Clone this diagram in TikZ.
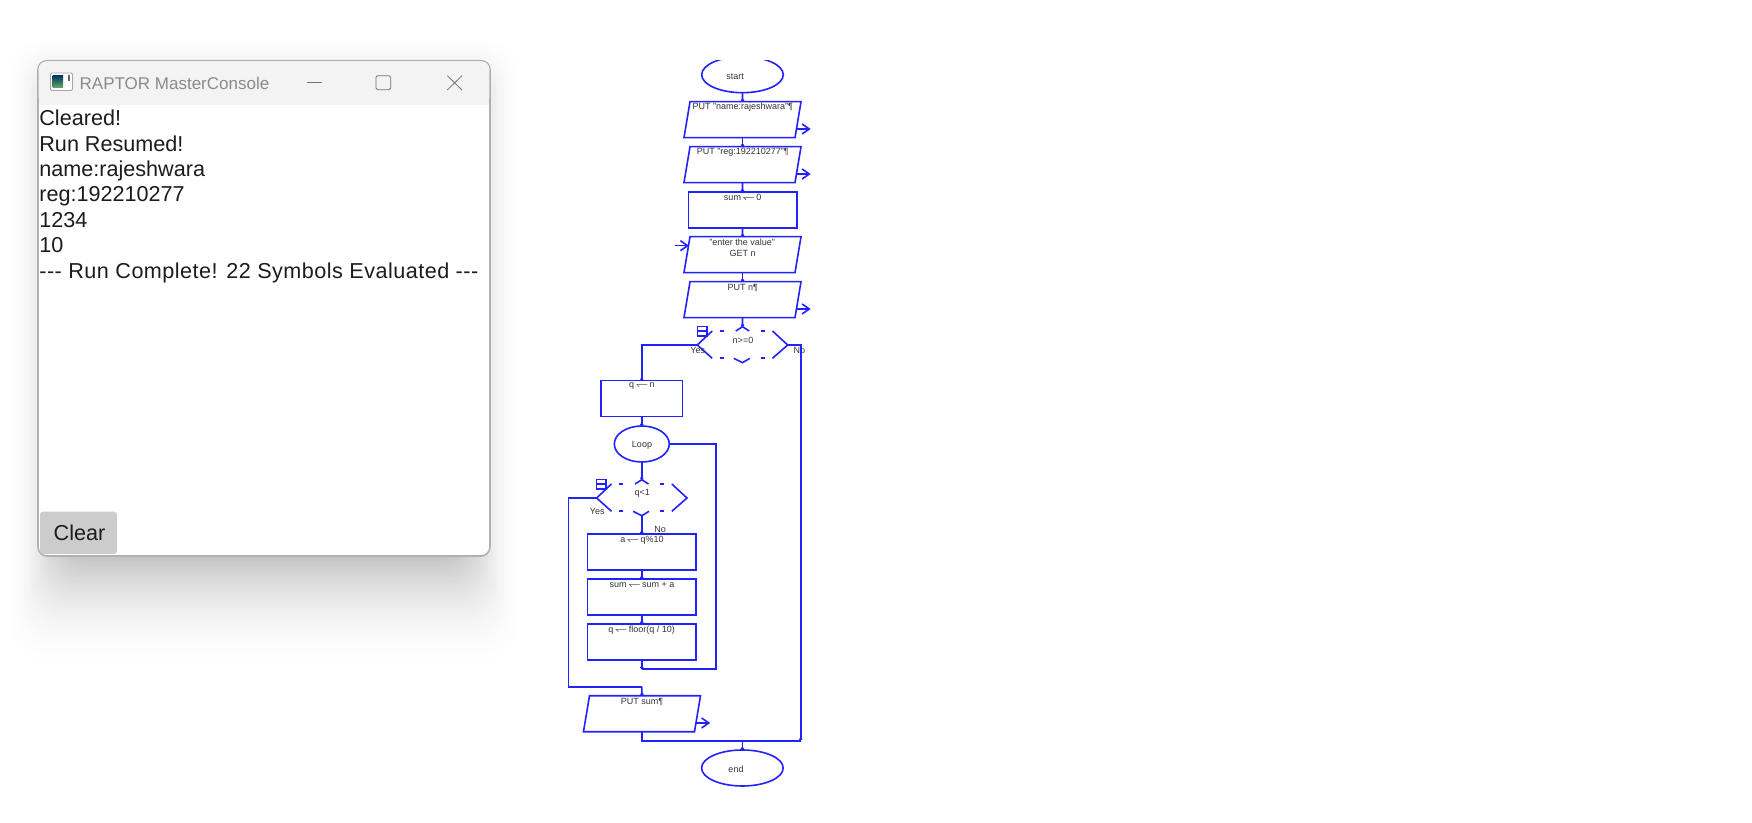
\documentclass[tikz,border=0pt]{standalone}
\usepackage{fontspec}
\setmainfont{Liberation Sans}
\usetikzlibrary{shapes.geometric,arrows.meta}
\definecolor{flowblue}{HTML}{2222FF}
\definecolor{windowline}{HTML}{B0B0B0}
\definecolor{titlebar}{HTML}{F3F3F3}
\definecolor{titlegrey}{HTML}{8A8A8A}
\definecolor{cleargrey}{HTML}{CCCCCC}
\definecolor{consoleink}{HTML}{1C1C1C}
\tikzset{
	flowline/.style={draw=flowblue,line width=0.8pt},
	conn/.style={flowline,-{Circle[length=1.5pt,width=1.5pt]}},
	plainconn/.style={flowline},
	outarrow/.style={flowline,-{Straight Barb[length=3.6pt,width=5pt]}},
	rectbox/.style={flowline,rectangle,inner sep=0,outer sep=0,minimum width=54.2pt,minimum height=18pt},
	ovalbox/.style={flowline,ellipse,inner sep=0,outer sep=0,minimum width=40.8pt,minimum height=18pt},
	putbox/.style={flowline,trapezium,trapezium left angle=80.5,trapezium right angle=99.5,
		inner sep=0,outer sep=0,execute at begin node={\phantom{\rule{52.5pt}{18pt}}}},
	flowtext/.style={font=\fontsize{4.5}{5.5}\selectfont,text=black!80,inner sep=0,align=center,yshift=-0.4pt},
	consoletext/.style={font=\fontsize{10.8}{13}\selectfont,text=consoleink,inner sep=0,anchor=base west,yshift=-0.4pt},
	winglyph/.style={draw=black!55,line width=0.4pt}
}
\newcommand{\assign}{\kern0.1em$\leftharpoondown$\kern0.1em}
\newcommand{\putout}[1]{\draw[outarrow] ([shift={(1.7,-8.7)}]#1.bottom right corner) -- ++(14,0);}
\newcommand{\decide}[4]{
	\coordinate (#1) at (#2,#3);
	\coordinate (#1-left) at (#2-45.2,#3);
	\coordinate (#1-right) at (#2+45.2,#3);
	\coordinate (#1-top) at (#2,#3-18.3);
	\coordinate (#1-bot) at (#2,#3+17.7);
	\begin{scope}[shift={(#2,#3)}]
		\draw[flowline] (-30.3,-14) -- (-45.2,0) -- (-30.3,13.3);
		\draw[flowline] (30,-14) -- (45.2,0) -- (30,13.3);
		\draw[flowline] (-6.7,-14) -- (0,-18.3) -- (6.7,-14);
		\draw[flowline] (-8.7,13.3) -- (0,17.7) -- (7.3,13.3);
		\foreach \dx in {-21,20} {
			\draw[flowline] (\dx-2,-14) -- (\dx+2,-14);
			\draw[flowline] (\dx-2,13.3) -- (\dx+2,13.3);
		}
		\draw[flowline] (-45.2,-18.3) rectangle (-35.8,-9);
		\draw[flowline] (-45.2,-13.7) -- (-35.8,-13.7);
	\end{scope}
	\node (#1text) [flowtext] at (#2+0.5,#3-5) {#4};
}
\begin{document}
\begin{tikzpicture}[x=0.5pt,y=-0.5pt]
	\useasboundingbox (0,0) rectangle (1752,823);

	\foreach \t in {1,0.98,...,0} {
		\pgfmathsetmacro{\shadeval}{23*(1-\t)*(1-\t)}
		\fill[black!\shadeval,rounded corners=16pt]
			({60-55*\t},{90-55*\t}) rectangle ({468+55*\t},{558+112*\t});
	}

	\draw[draw=windowline,fill=white,line width=0.8pt,rounded corners=4.5pt] (38,60.7) rectangle (490,556);
	\fill[titlebar,rounded corners=4pt] (38.6,61.3) -- (38.6,104.7) -- (489.4,104.7) -- (489.4,61.3) -- cycle;
	\fill[titlebar] (38.6,80) rectangle (489.4,104.7);

	\draw[draw=black!35,fill=white,line width=0.4pt,rounded corners=0.6pt] (50.5,73) rectangle (72.5,90.5);
	\shade[top color=black!60!green!60!blue,bottom color=green!45!black!60] (52.5,76) rectangle (63,88);
	\fill[black!60] (68,75) rectangle (69.5,81);
	\node (titletext) [font=\fontsize{8.5}{10}\selectfont,text=titlegrey,inner sep=0,anchor=base west] at (79.3,89.3) {RAPTOR MasterConsole};
	\draw[winglyph] (306.7,82.3) -- (322,82.3);
	\draw[winglyph,rounded corners=0.8pt] (376,75.7) rectangle (390.7,89.7);
	\draw[winglyph] (447.3,75.7) -- (462,90);
	\draw[winglyph] (462,75.7) -- (447.3,90);

	\node (line1) [consoletext] at (39,125) {Cleared!};
	\node (line2) [consoletext] at (39,150.7) {Run Resumed!};
	\node (line3) [consoletext] at (39,175.7) {name:rajeshwara};
	\node (line4) [consoletext] at (39,201) {reg:192210277};
	\node (line5) [consoletext] at (39,227) {1234};
	\node (line6) [consoletext] at (39,251.7) {10};
	\node (line7) [consoletext] at (39,277.7) {\addfontfeature{LetterSpace=2.2}-{}-{}- Run Complete! 22 Symbols Evaluated -{}-{}-};

	\fill[cleargrey,rounded corners=1.5pt] (40,511.7) rectangle (117,554);
	\node (clear) [consoletext] at (53.3,540) {Clear};

	\begin{scope}
		\clip (690,60.7) rectangle (795,100);
		\node (start) [ovalbox] at (742.5,74.7) {};
	\end{scope}
	\node (starttext) [flowtext] at (735,76) {start};

	\node (put1) [putbox] at (742.5,119.7) {};
	\node (put1text) [flowtext] at (742.7,106.7) {PUT "name:rajeshwara"¶};
	\node (put2) [putbox] at (742.5,164.7) {};
	\node (put2text) [flowtext] at (742.7,151.7) {PUT "reg:192210277"¶};
	\node (init) [rectbox] at (742.5,210) {};
	\node (inittext) [flowtext] at (742.7,196.7) {sum\assign 0};
	\node (get) [putbox] at (742.5,254.7) {};
	\node (gettext1) [flowtext] at (742.2,241.7) {"enter the value"};
	\node (gettext2) [flowtext] at (742.5,252.7) {GET n};
	\node (put3) [putbox] at (742.5,299.7) {};
	\node (put3text) [flowtext] at (742.7,286.7) {PUT n¶};
	\decide{ifn}{742.5}{345}{n>=0}
	\node (ifyes) [flowtext] at (697.7,349.3) {Yes};
	\node (ifno) [flowtext] at (799.3,349.3) {No};

	\node (setq) [rectbox,minimum width=40.85pt] at (641.8,398.7) {};
	\node (setqtext) [flowtext] at (641.8,385.5) {q\assign n};
	\node (loop) [ovalbox,minimum width=27.5pt] at (641.8,444) {};
	\node (looptext) [flowtext] at (642,444.7) {Loop};
	\decide{ifq}{641.8}{498}{q<1}
	\node (qyes) [flowtext] at (597.3,510.7) {Yes};
	\node (qno) [flowtext] at (660,528.7) {No};
	\node (seta) [rectbox] at (641.8,552) {};
	\node (setatext) [flowtext] at (642,539) {a\assign q\%10};
	\node (addsum) [rectbox] at (641.8,597) {};
	\node (addsumtext) [flowtext] at (642,584) {sum\assign sum + a};
	\node (divq) [rectbox] at (641.8,642) {};
	\node (divqtext) [flowtext] at (641.7,629) {q\assign floor(q / 10)};
	\node (putsum) [putbox] at (642,713.7) {};
	\node (putsumtext) [flowtext] at (642,700.7) {PUT sum¶};
	\node (end) [ovalbox] at (742.4,768) {};
	\node (endtext) [flowtext] at (736,768.7) {end};

	\coordinate (getin) at (675,245.7);
	\coordinate (noturn) at (800.7,740.7);
	\coordinate (nojoin) at (742.4,740.7);
	\coordinate (loopturn) at (715.7,669);
	\coordinate (loopback) at (641.8,669);
	\coordinate (yesturn) at (568.3,686.7);
	\coordinate (yesjoin) at (641.8,686.7);

	\draw[conn] (start.south) -- (put1.north);
	\draw[conn] (put1.south) -- (put2.north);
	\draw[conn] (put2.south) -- (init.north);
	\draw[conn] (init.south) -- (get.north);
	\draw[conn] (get.south) -- (put3.north);
	\draw[conn] (put3.south) -- (ifn-top);
	\putout{put1}
	\putout{put2}
	\putout{put3}
	\putout{putsum}
	\draw[outarrow] (getin) -- ++(14,0);

	\draw[conn] (ifn-left) -| (setq.north);
	\draw[conn] (ifn-right) -| (noturn);
	\draw[conn] (setq.south) -- (loop.north);
	\draw[conn] (loop.south) -- (ifq-top);
	\draw[conn] (ifq-bot) -- (seta.north);
	\draw[conn] (seta.south) -- (addsum.north);
	\draw[conn] (addsum.south) -- (divq.north);
	\draw[conn] (divq.south) -- (loopback);
	\draw[plainconn] (loop.east) -| (loopturn) -- (loopback);
	\draw[plainconn] (ifq-left) -| (yesturn) -- (yesjoin);
	\draw[conn] (yesjoin) -- (putsum.north);
	\draw[plainconn] (putsum.south) |- (noturn);
	\draw[conn] (nojoin) -- (end.north);
\end{tikzpicture}
\end{document}
